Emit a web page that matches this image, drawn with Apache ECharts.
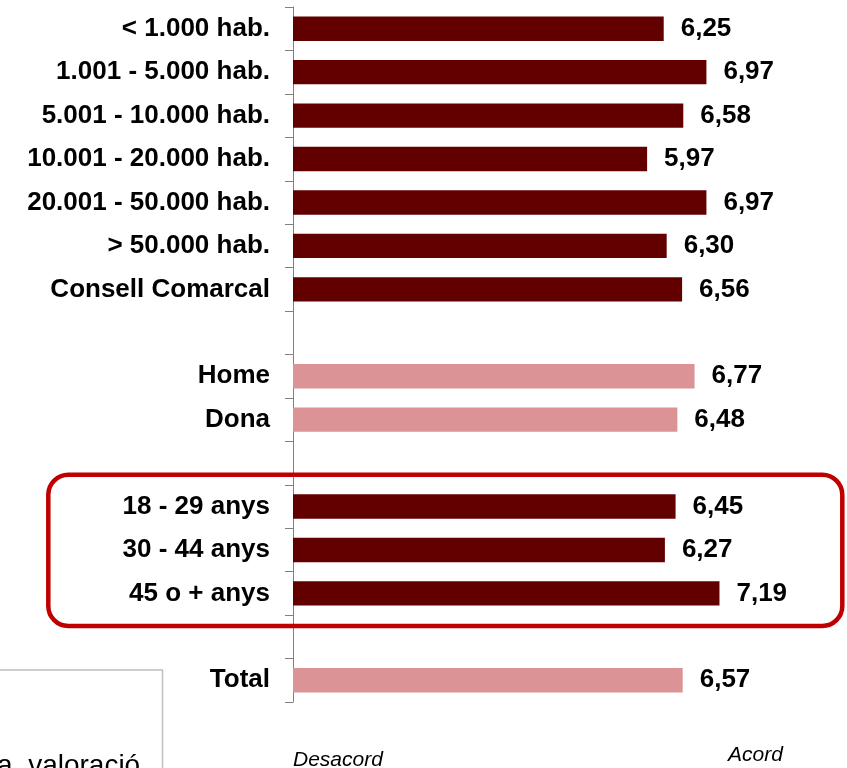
<!DOCTYPE html>
<html>
<head>
<meta charset="utf-8">
<script src="https://cdn.jsdelivr.net/npm/echarts@6/dist/echarts.min.js"></script>
<style>
html,body{margin:0;padding:0;background:#fff;}
#chart{width:847px;height:768px;}
</style>
</head>
<body>
<div id="chart"></div>
<script>
// Categories (top to bottom); blank rows are spacers between groups
var categories = [
  '< 1.000 hab.', '1.001 - 5.000 hab.', '5.001 - 10.000 hab.', '10.001 - 20.000 hab.',
  '20.001 - 50.000 hab.', '> 50.000 hab.', 'Consell Comarcal', ' ',
  'Home', 'Dona', '  ',
  '18 - 29 anys', '30 - 44 anys', '45 o + anys', '   ',
  'Total'
];
// Dark bars: municipality size and age groups
var valuesDark = [6.25, 6.97, 6.58, 5.97, 6.97, 6.30, 6.56, null,
                  null, null, null,
                  6.45, 6.27, 7.19, null,
                  null];
// Light bars: sex and total
var valuesLight = [null, null, null, null, null, null, null, null,
                   6.77, 6.48, null,
                   null, null, null, null,
                   6.57];
var scaleLabels = ['Desacord', 'Acord'];
var noteText = 'a  valoració';

var chart = echarts.init(document.getElementById('chart'), null, {renderer: 'canvas'});
var FONT = '"Liberation Sans", Arial, sans-serif';
function fmt(p) { return p.value == null ? '' : p.value.toFixed(2).replace('.', ','); }
var labelCfg = {
  show: true, position: 'right', distance: 17,
  fontFamily: FONT, fontSize: 26, fontWeight: 'bold', color: '#000',
  formatter: fmt
};
chart.setOption({
  animation: false,
  backgroundColor: '#fff',
  grid: {left: 293, right: 0, top: 7, bottom: 66, containLabel: false},
  xAxis: {type: 'value', min: 0, max: 9.34, show: false, splitLine: {show: false}},
  yAxis: {
    type: 'category', inverse: true, data: categories,
    axisLine: {show: true, lineStyle: {color: '#7f7f7f', width: 1}},
    axisTick: {show: true, length: 8, lineStyle: {color: '#7f7f7f', width: 1}},
    axisLabel: {margin: 23, fontFamily: FONT, fontSize: 26, fontWeight: 'bold', color: '#000'},
    splitLine: {show: false}
  },
  series: [
    {type: 'bar', name: 'dark', data: valuesDark, barWidth: '56%', barGap: '-100%',
     itemStyle: {color: '#620000'}, label: labelCfg},
    {type: 'bar', name: 'light', data: valuesLight, barWidth: '56%', barGap: '-100%',
     itemStyle: {color: '#DB9395'}, label: labelCfg}
  ],
  graphic: [
    {type: 'rect', shape: {x: 48.3, y: 474.7, width: 794, height: 151.3, r: 20},
     style: {fill: 'none', stroke: '#C00000', lineWidth: 4.5}, z: 100},
    {type: 'rect', shape: {x: -3, y: 670, width: 165.5, height: 130},
     style: {fill: 'none', stroke: '#BFBFBF', lineWidth: 1.5}, z: 100},
    {type: 'text', x: -3, y: 766,
     style: {text: noteText, font: '28px ' + FONT, fill: '#000', align: 'left', verticalAlign: 'middle'}, z: 100},
    {type: 'text', x: 293, y: 760,
     style: {text: scaleLabels[0], font: 'italic 21px ' + FONT, fill: '#000', align: 'left', verticalAlign: 'middle'}, z: 100},
    {type: 'text', x: 728, y: 755,
     style: {text: scaleLabels[1], font: 'italic 21px ' + FONT, fill: '#000', align: 'left', verticalAlign: 'middle'}, z: 100}
  ]
});
</script>
</body>
</html>
